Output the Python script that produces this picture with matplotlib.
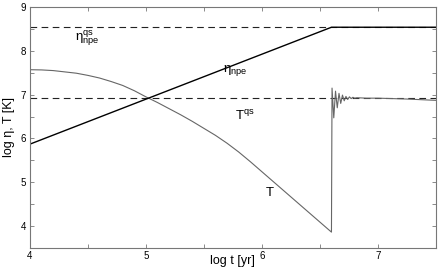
import matplotlib
matplotlib.use('Agg')
import matplotlib.pyplot as plt
from matplotlib.ticker import MultipleLocator, FuncFormatter

plt.rcParams['font.family'] = 'Liberation Sans'
plt.rcParams['mathtext.fontset'] = 'custom'
plt.rcParams['mathtext.rm'] = 'Liberation Sans'

# eta_npe (black line)
eta_t = [4.0, 6.6, 7.5]
eta_v = [5.87, 8.54, 8.54]

# T (grey curve), cooling, jump at ~6.6, damped oscillation
T_t = [4.0, 4.1, 4.2, 4.3, 4.4, 4.5, 4.6, 4.7, 4.8, 4.9,
       5.0, 5.1, 5.2, 5.3, 5.4, 5.5, 5.6, 5.7, 5.8, 5.9,
       6.0, 6.1, 6.2, 6.3, 6.4, 6.5, 6.6,
       6.605, 6.62, 6.635, 6.65, 6.665, 6.68, 6.695, 6.71, 6.725, 6.74,
       6.755, 6.77, 6.785, 6.80, 6.82, 6.9, 7.0, 7.25, 7.5]
T_v = [7.57, 7.565, 7.55, 7.52, 7.49, 7.44, 7.38, 7.30, 7.21, 7.09,
       6.95, 6.82, 6.68, 6.54, 6.39, 6.23, 6.07, 5.89, 5.69, 5.47,
       5.24, 5.01, 4.78, 4.55, 4.32, 4.09, 3.86,
       7.15, 6.47, 7.08, 6.70, 7.03, 6.80, 6.99, 6.86, 6.96, 6.89,
       6.95, 6.91, 6.94, 6.92, 6.93, 6.92, 6.92, 6.90, 6.87]

# quasi-static levels
eta_qs = 8.55
T_qs = 6.92

fig = plt.figure(figsize=(4.47, 2.73), dpi=100)
ax = fig.add_axes([0.067, 0.092, 0.908, 0.882])

ax.axhline(eta_qs, color='#222222', lw=0.8, ls=(0, (6, 4)))
ax.axhline(T_qs, color='#222222', lw=0.8, ls=(0, (6, 4)))
ax.plot(T_t, T_v, color='#666666', lw=0.8)
ax.plot(eta_t, eta_v, color='black', lw=1.0)

ax.text(4.49, 8.3, r'$\mathregular{\eta_{npe}^{qs}}$', fontsize=9.5, ha='center', va='center')
ax.text(5.77, 7.55, r'$\mathregular{\eta_{npe}}$', fontsize=9.5, ha='center', va='center')
ax.text(5.85, 6.52, r'$\mathregular{T^{qs}}$', fontsize=9.5, ha='center', va='center')
ax.text(6.07, 4.75, 'T', fontsize=9.5, ha='center', va='center')

ax.set_xlim(4, 7.5)
ax.set_ylim(3.5, 9)
ax.xaxis.set_major_locator(MultipleLocator(0.5))
ax.yaxis.set_major_locator(MultipleLocator(0.5))
intfmt = FuncFormatter(lambda v, p: '%d' % round(v) if abs(v - round(v)) < 1e-6 else '')
ax.xaxis.set_major_formatter(intfmt)
ax.yaxis.set_major_formatter(intfmt)
ax.tick_params(direction='in', length=3, width=0.6, color='#777777',
               top=True, right=True, labelsize=7)
ax.tick_params(axis='x', pad=2)
ax.tick_params(axis='y', pad=3)
for s in ax.spines.values():
    s.set_color('#777777')
    s.set_linewidth(0.8)

ax.set_xlabel('log t [yr]', fontsize=9, va='top')
ax.xaxis.set_label_coords(0.5, -0.028)
ax.set_ylabel('log η, T [K]', fontsize=9, labelpad=4)

fig.savefig('out.png', dpi=100)
